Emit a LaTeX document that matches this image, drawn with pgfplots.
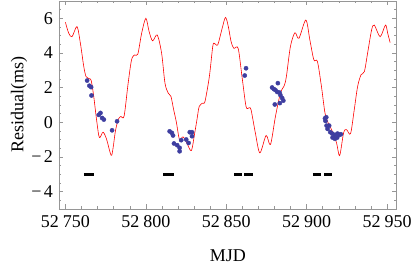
\documentclass[border=0pt]{standalone}
\usepackage{fontspec}
\setmainfont{Liberation Serif}
\usepackage{pgfplots}
\pgfplotsset{compat=1.18}
\definecolor{ptblue}{RGB}{62,62,160}
\definecolor{framegray}{RGB}{150,150,150}
\begin{document}
\fontsize{18}{20}\selectfont
\begin{tikzpicture}
\begin{axis}[
  scale only axis, width=337.7pt, height=208pt,
  xmin=52746, xmax=52956, ymin=-5, ymax=7,
  scaled x ticks=false,
  axis line style={framegray, line width=0.6pt},
  every tick/.style={framegray, line width=0.5pt},
  tick align=inside, major tick length=4.5pt, minor tick length=2.5pt,
  xtick={52750,52800,52850,52900,52950},
  xticklabels={52\hspace{0.22em}750,52\hspace{0.22em}800,52\hspace{0.22em}850,52\hspace{0.22em}900,52\hspace{0.22em}950},
  minor xtick={52750,52760,...,52950},
  ytick={-4,-2,0,2,4,6},
  yticklabels={−\hspace{0.12em}4,−\hspace{0.12em}2,0,2,4,6},
  minor ytick={-5,-4.5,...,7},
  xlabel={MJD}, ylabel={Residual(ms)},
  xlabel style={at={(axis description cs:0.5,-0.226)}, anchor=center},
  ylabel style={at={(axis description cs:-0.118,0.5)}, anchor=center},
  clip=true,
]
\coordinate (ll) at (rel axis cs:0,0);
\coordinate (ur) at (rel axis cs:1,1);
% red model curve
\addplot[red, line width=0.6pt, smooth, tension=0.5] coordinates {
(52750.0,5.77) (52752.0,5.15) (52754.1,4.94) (52757.2,5.52) (52759.3,4.56)
(52761.4,3.22) (52762.8,2.64) (52764.5,2.52) (52766.0,2.42) (52767.6,1.49)
(52769.1,0.34) (52770.7,-0.75) (52771.6,-0.86) (52773.4,-0.57) (52775.5,-0.95)
(52778.4,-1.9) (52779.6,-1.5) (52781.0,-0.55) (52782.8,0.16) (52784.5,0.34)
(52786.5,0.37) (52789.0,2.26) (52791.1,3.6) (52793.0,3.89) (52795.0,3.93)
(52797.4,5.14) (52800.0,6.0) (52802.0,5.25) (52804.2,4.7) (52807.1,5.04)
(52809.8,3.99) (52811.9,2.26) (52813.9,1.69) (52815.6,1.5) (52817.3,0.73)
(52819.0,0.0) (52820.4,-0.8) (52821.2,-1.03) (52823.1,-0.84) (52825.5,-1.2)
(52828.3,-1.63) (52830.4,-0.61) (52831.8,0.16) (52833.2,0.92) (52835.4,1.11)
(52836.8,1.21) (52839.5,2.64) (52841.6,4.37) (52842.6,4.56) (52844.7,4.47)
(52847.2,5.33) (52849.5,6.05) (52851.3,5.52) (52853.0,4.66) (52854.7,4.27)
(52857.4,4.27) (52859.8,2.64) (52862.3,0.92) (52864.0,0.83) (52865.4,0.73)
(52868.1,-0.61) (52870.9,-1.76) (52874.8,-0.76) (52877.5,-1.28) (52880.6,0.34)
(52883.7,1.69) (52886.0,2.1) (52887.4,2.64) (52889.9,4.37) (52892.7,5.17)
(52895.2,4.85) (52899.5,5.9) (52902.0,4.75) (52904.5,3.6) (52906.7,3.51)
(52909.2,2.07) (52911.4,0.54) (52913.4,-0.04) (52915.5,-0.42) (52918.6,-1.19)
(52920.5,-1.92) (52923.0,-0.6) (52924.8,-0.42) (52927.3,-0.65) (52929.6,0.73)
(52931.7,2.07) (52933.8,2.74) (52935.9,2.93) (52937.9,3.99) (52940.4,5.33)
(52942.1,5.61) (52945.7,4.94) (52949.0,5.61) (52950.4,5.14) (52951.9,4.6)
};
% observed residuals
\addplot[only marks, mark=*, mark size=2.1pt, ptblue, mark options={draw=ptblue, fill=ptblue}] coordinates {
(52763.5,2.41) (52764.9,2.11) (52766.0,2.03) (52766.2,1.55) (52770.7,0.43)
(52771.8,0.54) (52772.8,0.25) (52773.9,0.16) (52779.0,-0.46) (52782.1,0.06)
(52814.8,-0.52) (52816.2,-0.61) (52816.9,-0.76) (52817.5,-1.22) (52819.5,-1.32)
(52821.0,-1.47) (52821.0,-1.67) (52822.0,-1.03) (52825.1,-0.99) (52826.6,-1.19)
(52827.3,-0.57) (52828.7,-0.57) (52828.7,-0.80)
(52862.3,3.12) (52861.5,2.7) (52878.5,2.01) (52879.6,1.92) (52880.6,1.86)
(52882.1,2.26) (52881.7,1.75) (52883.1,1.72) (52883.7,1.57) (52884.8,1.40)
(52885.5,1.25) (52883.3,1.11) (52880.2,1.03)
(52911.4,0.23) (52911.7,0.08) (52912.4,-0.19) (52914.0,-0.19) (52913.0,-0.38)
(52914.7,-0.57) (52915.9,-0.65) (52917.6,-0.72) (52916.1,-0.88) (52917.6,-0.95)
(52919.0,-0.88) (52920.3,-0.72) (52921.3,-0.69) (52919.2,-0.65) (52912.2,0.29)
};
% observing windows
\addplot[black, line width=2.4pt] coordinates {(52761.5,-3) (52767.8,-3)};
\addplot[black, line width=2.4pt] coordinates {(52810.8,-3) (52817.5,-3)};
\addplot[black, line width=2.4pt] coordinates {(52855.0,-3) (52859.7,-3)};
\addplot[black, line width=2.4pt] coordinates {(52861.3,-3) (52866.5,-3)};
\addplot[black, line width=2.4pt] coordinates {(52903.9,-3) (52908.9,-3)};
\addplot[black, line width=2.4pt] coordinates {(52911.0,-3) (52915.7,-3)};
\end{axis}
\pgfresetboundingbox
\path ([shift={(-59pt,-58pt)}]ll) rectangle ([shift={(18.3pt,1pt)}]ur);
\end{tikzpicture}
\end{document}
